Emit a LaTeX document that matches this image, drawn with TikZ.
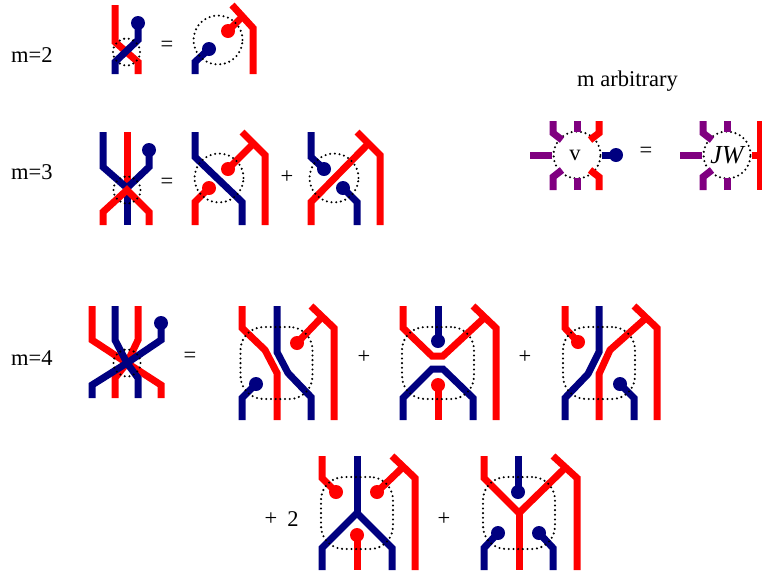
\documentclass[tikz,border=0pt]{standalone}
\usepackage{fontspec}
\setmainfont{Liberation Serif}
\usetikzlibrary{positioning}
\definecolor{strandred}{RGB}{255,0,0}
\definecolor{strandblue}{RGB}{0,0,128}
\definecolor{strandpurple}{RGB}{128,0,128}

\begin{document}
\begin{tikzpicture}[x=1pt,y=-1pt]
% STYLES
\tikzset{
    redline/.style={draw=strandred, line width=7pt},
    blueline/.style={draw=strandblue, line width=7pt},
    purpleline/.style={draw=strandpurple, line width=7pt},
    reddot/.style={circle, fill=strandred, minimum size=14pt, inner sep=0pt},
    bluedot/.style={circle, fill=strandblue, minimum size=14pt, inner sep=0pt},
    dotcurve/.style={draw, line width=2.3pt, line cap=round, dash pattern=on 0pt off 4.7pt, inner sep=0pt},
    smallblob/.style={dotcurve, circle, minimum size=27pt},
    blob/.style={dotcurve, circle, minimum size=49pt},
    squareblob/.style={dotcurve, rectangle, rounded corners=23pt, minimum width=72pt, minimum height=72pt},
    lab/.style={font=\fontsize{22.5}{26}\selectfont, inner sep=0pt}
}
\useasboundingbox (0,0) rectangle (762,574);

% LABELS
\node [lab, anchor=west] (mtwo) at (11,55) {m=2};
\node [lab, anchor=west] (mthree) at (11,172) {m=3};
\node [lab, anchor=west] (mfour) at (11,358) {m=4};
\node [lab] (arbitrary) at (627.5,81) {m arbitrary};
\node [lab] (eqa) at (167,46) {=};
\node [lab] (eqb) at (167,183) {=};
\node [lab] (plusa) at (287,177) {+};
\node [lab] (eqc) at (646,152) {=};
\node [lab] (eqd) at (190,357) {=};
\node [lab] (plusb) at (364,357) {+};
\node [lab] (plusc) at (525,357) {+};
\node [lab] (plusd) at (271,519) {+};
\node [lab] (twice) at (293,519) {2};
\node [lab] (pluse) at (444,519) {+};

% m=2
\node [bluedot] (dA) at (138,23) {};
\draw [redline] (115,5) -- (115,42) -- (138,62) -- (138,74);
\draw [blueline] (115,74) -- (115,62) -- (138,40) -- (dA.center);
\node [smallblob] (bA) at (126.5,52) {};

\node [bluedot] (dB) at (209,49) {};
\node [reddot] (dC) at (228,31) {};
\coordinate (tA) at (243,16);
\draw [blueline] (195,74) -- (195,62) -- (dB.center);
\draw [redline] (232,5) -- (253,28) -- (253,74);
\draw [redline] (dC.center) -- (tA);
\node [blob] (bB) at (218,40) {};

% m=3
\node [bluedot] (dD) at (149,150) {};
\coordinate (cA) at (127,188);
\draw [redline] (127,132) -- (127,190);
\draw [blueline] (103,132) -- (103,167) -- (cA) -- (149,167) -- (dD.center);
\draw [blueline] (127,188) -- (127,225);
\draw [redline] (103,225) -- (103,212) -- (127,190) -- (149,212) -- (149,225);
\node [smallblob] (bC) at (127,190) {};

\node [reddot] (dE) at (209,188) {};
\node [reddot] (dF) at (228,169) {};
\coordinate (tB) at (252,145);
\draw [redline] (195,225) -- (195,202) -- (dE.center);
\draw [blueline] (195,132) -- (195,157) -- (242,202) -- (242,225);
\draw [redline] (242,132) -- (265,155) -- (265,225);
\draw [redline] (dF.center) -- (tB);
\node [blob] (bD) at (219,178) {};

\node [bluedot] (dG) at (324,169) {};
\node [bluedot] (dH) at (343,188) {};
\coordinate (tC) at (367,145);
\draw [blueline] (311,132) -- (311,157) -- (dG.center);
\draw [blueline] (dH.center) -- (357,202) -- (357,225);
\draw [redline] (311,225) -- (311,202) -- (tC);
\draw [redline] (357,132) -- (380,155) -- (380,225);
\node [blob] (bE) at (334,178) {};

% m arbitrary
\node [dotcurve, circle, minimum size=47pt] (v) at (577,155) {};
\node [lab] (vlab) at (575,155) {v};
\node [bluedot] (dI) at (616,155) {};
\draw [purpleline] (530,155) -- (v.west);
\draw [blueline] (v.east) -- (dI.center);
\draw [purpleline] (553,121) -- (553,133) -- (562,140);
\draw [purpleline] (577,121) -- (577,132);
\draw [redline] (599,121) -- (599,133) -- (590,140);
\draw [purpleline] (553,190) -- (553,177) -- (562,170);
\draw [purpleline] (577,190) -- (577,178);
\draw [redline] (599,190) -- (599,177) -- (590,170);

\node [dotcurve, circle, minimum size=47pt] (jw) at (727,155) {};
\node [lab, font=\fontsize{26}{30}\selectfont\itshape] (jwlab) at (727,155) {JW};
\draw [purpleline] (680,155) -- (jw.west);
\draw [redline] (jw.east) -- (760.5,155);
\draw [redline] (760.5,121) -- (760.5,190);
\draw [purpleline] (703,121) -- (703,133) -- (712,140);
\draw [purpleline] (727,121) -- (727,132);
\draw [purpleline] (703,190) -- (703,177) -- (712,170);
\draw [purpleline] (727,190) -- (727,178);

% m=4
\node [bluedot] (dJ) at (161,323) {};
\coordinate (cB) at (127,363);
\draw [redline] (92,306) -- (92,340) -- (cB) -- (161,385) -- (161,398);
\draw [redline] (138,306) -- (138,340) -- (cB) -- (115,378) -- (115,398);
\draw [blueline] (115,306) -- (115,340) -- (cB) -- (138,378) -- (138,398);
\draw [blueline] (dJ.center) -- (161,340) -- (cB) -- (92,385) -- (92,398);
\node [smallblob] (bF) at (127,363) {};

\node [bluedot] (dK) at (256,384) {};
\node [reddot] (dL) at (297,343) {};
\coordinate (tD) at (321,318);
\draw [redline] (242,306) -- (242,328) -- (265,350) -- (277,373) -- (277,420);
\draw [blueline] (277,306) -- (277,352) -- (288,373) -- (311,397) -- (311,420);
\draw [blueline] (dK.center) -- (242,398) -- (242,420);
\draw [redline] (311,306) -- (334,328) -- (334,420);
\draw [redline] (dL.center) -- (tD);
\node [squareblob] (bG) at (276.5,363) {};

\node [bluedot] (dM) at (438,341) {};
\node [reddot] (dN) at (438,385) {};
\coordinate (tE) at (484,318);
\draw [redline] (403,306) -- (403,328) -- (432,356) -- (443,356) -- (tE);
\draw [redline] (473,306) -- (496,328) -- (496,420);
\draw [blueline] (438,306) -- (dM.center);
\draw [blueline] (403,420) -- (403,398) -- (432,369) -- (443,369) -- (473,398) -- (473,420);
\draw [redline] (dN.center) -- (438,420);
\node [squareblob] (bH) at (438,363) {};

\node [reddot] (dO) at (578,342) {};
\node [bluedot] (dP) at (620,384) {};
\coordinate (tF) at (646,318);
\draw [redline] (565,306) -- (565,328) -- (dO.center);
\draw [blueline] (599,306) -- (599,352) -- (588,374) -- (565,398) -- (565,420);
\draw [redline] (599,420) -- (599,374) -- (610,350) -- (tF);
\draw [redline] (634,306) -- (657,328) -- (657,420);
\draw [blueline] (dP.center) -- (634,398) -- (634,420);
\node [squareblob] (bI) at (599,363) {};

\node [reddot] (dQ) at (336,492) {};
\node [reddot] (dR) at (377,492) {};
\node [reddot] (dS) at (357,535) {};
\coordinate (tG) at (402,468);
\draw [redline] (322,456) -- (322,478) -- (dQ.center);
\draw [redline] (dR.center) -- (tG);
\draw [redline] (392,456) -- (415,478) -- (415,570);
\draw [blueline] (357,456) -- (357,513);
\draw [blueline] (322,570) -- (322,548) -- (357,513) -- (392,548) -- (392,570);
\draw [redline] (dS.center) -- (357,570);
\node [squareblob] (bJ) at (357,513) {};

\node [bluedot] (dT) at (518,492) {};
\node [bluedot] (dU) at (498,533) {};
\node [bluedot] (dV) at (539,533) {};
\coordinate (tH) at (565,468);
\draw [redline] (484,456) -- (484,478) -- (519,513) -- (tH);
\draw [redline] (553,456) -- (577,478) -- (577,570);
\draw [redline] (519,513) -- (519,570);
\draw [blueline] (518,456) -- (dT.center);
\draw [blueline] (dU.center) -- (484,548) -- (484,570);
\draw [blueline] (dV.center) -- (553,548) -- (553,570);
\node [squareblob] (bK) at (519,513) {};
\end{tikzpicture}
\end{document}
